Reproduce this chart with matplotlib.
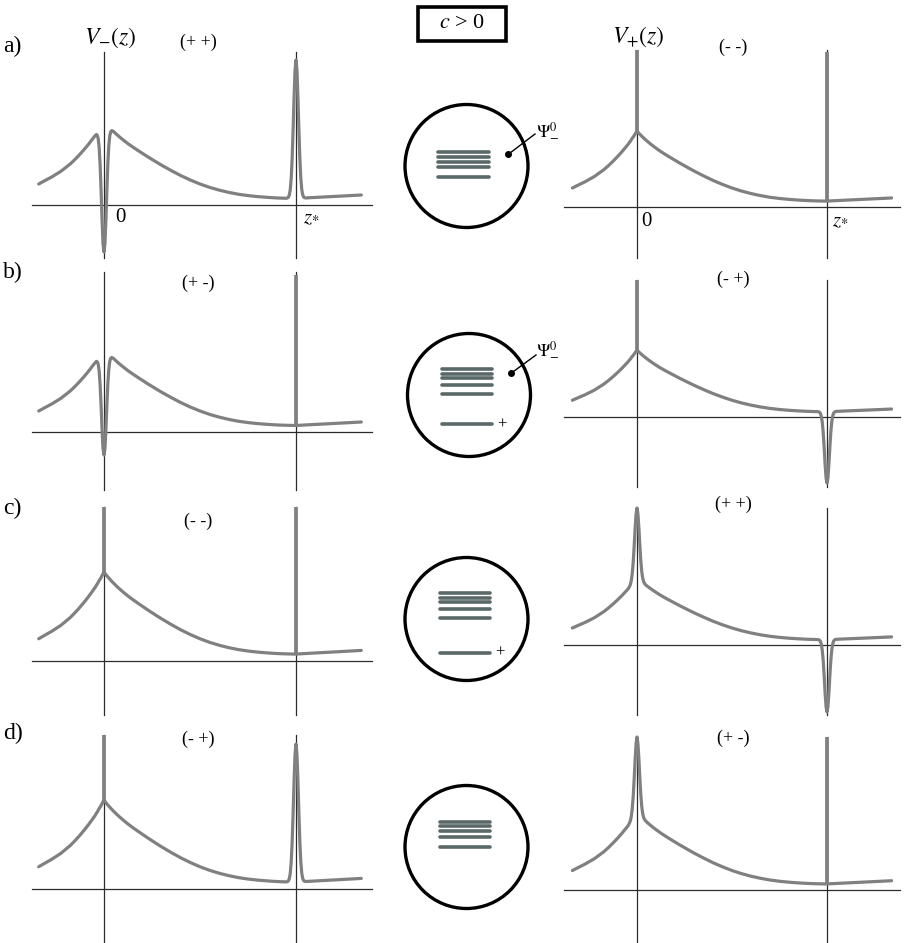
import numpy as np
import matplotlib
matplotlib.use('Agg')
import matplotlib.pyplot as plt
from matplotlib.patches import Circle, Rectangle

plt.rcParams['font.family'] = ['Liberation Serif', 'DejaVu Serif']
plt.rcParams['mathtext.fontset'] = 'stix'

W, HPX = 910, 943
fig = plt.figure(figsize=(W / 100, HPX / 100), dpi=100)

# ---------------- data ----------------
# common background shape (normalised to 1 at z = 0), z* = 1
Z = [-0.34, -0.32, -0.30, -0.275, -0.25, -0.225, -0.20, -0.175, -0.15, -0.125, -0.10, -0.08, -0.065,
     -0.05, -0.045, -0.04, -0.035, -0.03, -0.025, -0.02, -0.015, -0.01, -0.005, 0.0,
     0.005, 0.01, 0.015, 0.02, 0.025, 0.03, 0.035, 0.04, 0.045, 0.05,
     0.065, 0.08, 0.10, 0.125, 0.15, 0.175, 0.20, 0.225, 0.25, 0.275, 0.30, 0.35, 0.40, 0.45,
     0.50, 0.55, 0.60, 0.65, 0.70, 0.75, 0.80, 0.85, 0.90, 0.935,
     0.95, 0.955, 0.96, 0.965, 0.97, 0.975, 0.98, 0.985, 0.99, 0.995, 1.0,
     1.005, 1.01, 1.015, 1.02, 1.025, 1.03, 1.035, 1.04, 1.045, 1.05,
     1.10, 1.15, 1.20, 1.25, 1.30, 1.34]
BG = [0.25, 0.275, 0.30, 0.33, 0.365, 0.40, 0.445, 0.49, 0.545, 0.605, 0.67, 0.725, 0.77,
      0.815, 0.83, 0.85, 0.865, 0.885, 0.905, 0.92, 0.94, 0.96, 0.98, 1.0,
      0.985, 0.97, 0.957, 0.944, 0.932, 0.92, 0.908, 0.896, 0.885, 0.874,
      0.842, 0.812, 0.774, 0.73, 0.69, 0.652, 0.615, 0.578, 0.543, 0.508, 0.474, 0.41, 0.35, 0.297,
      0.25, 0.21, 0.177, 0.15, 0.128, 0.112, 0.10, 0.091, 0.084, 0.081,
      0.080, 0.080, 0.0795, 0.079, 0.079, 0.0785, 0.0785, 0.078, 0.078, 0.078, 0.078,
      0.0785, 0.079, 0.0797, 0.0803, 0.081, 0.0816, 0.0822, 0.0828, 0.0834, 0.084,
      0.090, 0.096, 0.102, 0.108, 0.114, 0.119]
# narrow peak / dip profile (fraction of its amplitude), offsets -0.05 ... +0.05 step 0.005
PEAK_SHAPE = [0.0, 0.002, 0.007, 0.023, 0.062, 0.145, 0.29, 0.50, 0.735, 0.926, 1.0,
              0.926, 0.735, 0.50, 0.29, 0.145, 0.062, 0.023, 0.007, 0.002, 0.0]

# panels: left a-d, then right a-d
PANEL_LABEL = ['a)', 'b)', 'c)', 'd)']
SIGNS_LEFT = ['(+ +)', '(+ -)', '(- -)', '(- +)']
SIGNS_RIGHT = ['(- -)', '(- +)', '(+ +)', '(+ -)']
BG_HEIGHT = [84, 84, 89, 89, 76, 67, 68, 78]
KIND_AT_0 = ['dip', 'dip', 'spike', 'spike', 'spike', 'spike', 'peak', 'peak']
EXTREME_AT_0 = [-47, -23, 154, 154, 157, 137, 137, 153]
KIND_AT_ZS = ['peak', 'spike', 'spike', 'peak', 'spike', 'dip', 'dip', 'spike']
EXTREME_AT_ZS = [145, 157, 154, 145, 155, -66, -67, 153]

# level schemes in the circles (pixel rows)
LEVELS = [[151.7, 156.7, 161.7, 167.3, 176.7],
          [369, 374, 378.3, 384.7, 394],
          [593, 597.7, 602.3, 609, 618.3],
          [821.7, 826.3, 830.7, 837.3, 846.7]]
PLUS_LEVEL = [None, 424.3, 652.7, None]

# ---------------- layout ----------------
GRAY = '#808080'
AXC = '#2b2b2b'
LEFT_X0, LEFT_S = 104, 192
RIGHT_X0, RIGHT_S = 637, 190
AXIS_Y = [205, 432, 661, 889, 207, 417, 645, 890]
VTOP = [52, 272, 507, 735, 50, 280, 508, 737]
VBOT = [258, 490, 715, 943, 258, 487, 715, 943]
HX = [(32, 372), (564, 900)]

zarr = np.array(Z)
bgarr = np.array(BG)
i0 = Z.index(-0.05)
i1 = Z.index(0.95)
shape = np.array(PEAK_SHAPE)


def panel(k):
    side = 0 if k < 4 else 1
    x0, s = (LEFT_X0, LEFT_S) if side == 0 else (RIGHT_X0, RIGHT_S)
    ya = AXIS_Y[k]
    l, r = (0, 395) if side == 0 else (545, 910)
    t, b = max(ya - 215, 0), min(ya + 75, HPX)
    ax = fig.add_axes([l / W, 1 - b / HPX, (r - l) / W, (b - t) / HPX])
    ax.set_xlim((l - x0) / s, (r - x0) / s)
    ax.set_ylim(ya - b, ya - t)
    ax.axis('off')
    ax.patch.set_visible(False)

    # axes lines
    hx0, hx1 = HX[side]
    ax.plot([(hx0 - x0) / s, (hx1 - x0) / s], [0, 0], color=AXC, lw=0.9, zorder=1)
    for zz in (0.0, 1.0):
        ax.plot([zz, zz], [ya - VBOT[k], ya - VTOP[k]], color=AXC, lw=0.9, zorder=1)

    H = BG_HEIGHT[k]
    y = H * bgarr.copy()
    spikes = []
    for kind, ext, idx, zc in ((KIND_AT_0[k], EXTREME_AT_0[k], i0, 0.0),
                               (KIND_AT_ZS[k], EXTREME_AT_ZS[k], i1, 1.0)):
        base = H * BG[Z.index(zc)]
        if kind in ('peak', 'dip'):
            y[idx:idx + len(shape)] += (ext - base) * shape
        else:
            spikes.append((zc, base, ext))
    ax.plot(zarr, y, color=GRAY, lw=2.3, solid_joinstyle='round',
            solid_capstyle='round', zorder=3)
    for zc, base, ext in spikes:
        ax.plot([zc, zc], [base, ext], color=GRAY, lw=2.7, solid_capstyle='butt', zorder=3)
    return ax


for k in range(8):
    panel(k)


def ftext(xp, yp, s, size, **kw):
    fig.text(xp / W, 1 - yp / HPX, s, fontsize=size, ha=kw.pop('ha', 'center'),
             va=kw.pop('va', 'center'), **kw)


LAB_Y = [46, 272, 508, 733]
for i, lab in enumerate(PANEL_LABEL):
    ftext(3, LAB_Y[i], lab, 17, ha='left')
SL_Y = [42, 283, 521, 739]
SR_Y = [47, 279, 504, 738]
for i in range(4):
    ftext(198, SL_Y[i], SIGNS_LEFT[i], 13)
    ftext(733, SR_Y[i], SIGNS_RIGHT[i], 13)

ftext(110, 38, r'$V_{-}(z)$', 17)
ftext(638, 37, r'$V_{+}(z)$', 17)
ftext(120, 217, '0', 15)
ftext(311, 218, r'$z_{*}$', 15)
ftext(646, 221, '0', 15)
ftext(840, 221, r'$z_{*}$', 15)

# ---------------- middle column ----------------
axm = fig.add_axes([380 / W, 0, 180 / W, 1])
axm.set_xlim(380, 560)
axm.set_ylim(HPX, 0)
axm.axis('off')
axm.patch.set_visible(False)

CX = [466.5, 469, 466.5, 466.5]
CY = [166, 395, 619, 847]
LX = [(438, 489), (441.7, 492.3), (440, 490), (440, 490)]
for i in range(4):
    axm.add_patch(Circle((CX[i], CY[i]), 61.5, fill=False, ec='black', lw=2.4))
    for yl in LEVELS[i]:
        axm.plot(LX[i], [yl, yl], color='#5a6868', lw=2.6, solid_capstyle='round')
    if PLUS_LEVEL[i] is not None:
        axm.plot(LX[i], [PLUS_LEVEL[i]] * 2, color='#5a6868', lw=2.6, solid_capstyle='round')
        axm.text(LX[i][1] + 10, PLUS_LEVEL[i], '+', fontsize=12, ha='center', va='center')

# pointers to Psi_-^0
for (dx, dy), (ex, ey), (tx, ty) in (((508.3, 154.3), (535, 134), (548, 130)),
                                     ((511, 373.3), (536, 355), (548, 349))):
    axm.plot([dx, ex], [dy, ey], color='black', lw=1.0)
    axm.plot([dx], [dy], 'o', color='black', ms=4)
    axm.text(tx, ty, r'$\Psi^{0}_{-}$', fontsize=13, ha='center', va='center')

axm.add_patch(Rectangle((418, 7), 88, 34, fill=False, ec='black', lw=2.6))
axm.text(462, 24, r'$c$ > 0', fontsize=16, ha='center', va='center')

fig.savefig('out.png', dpi=100)
